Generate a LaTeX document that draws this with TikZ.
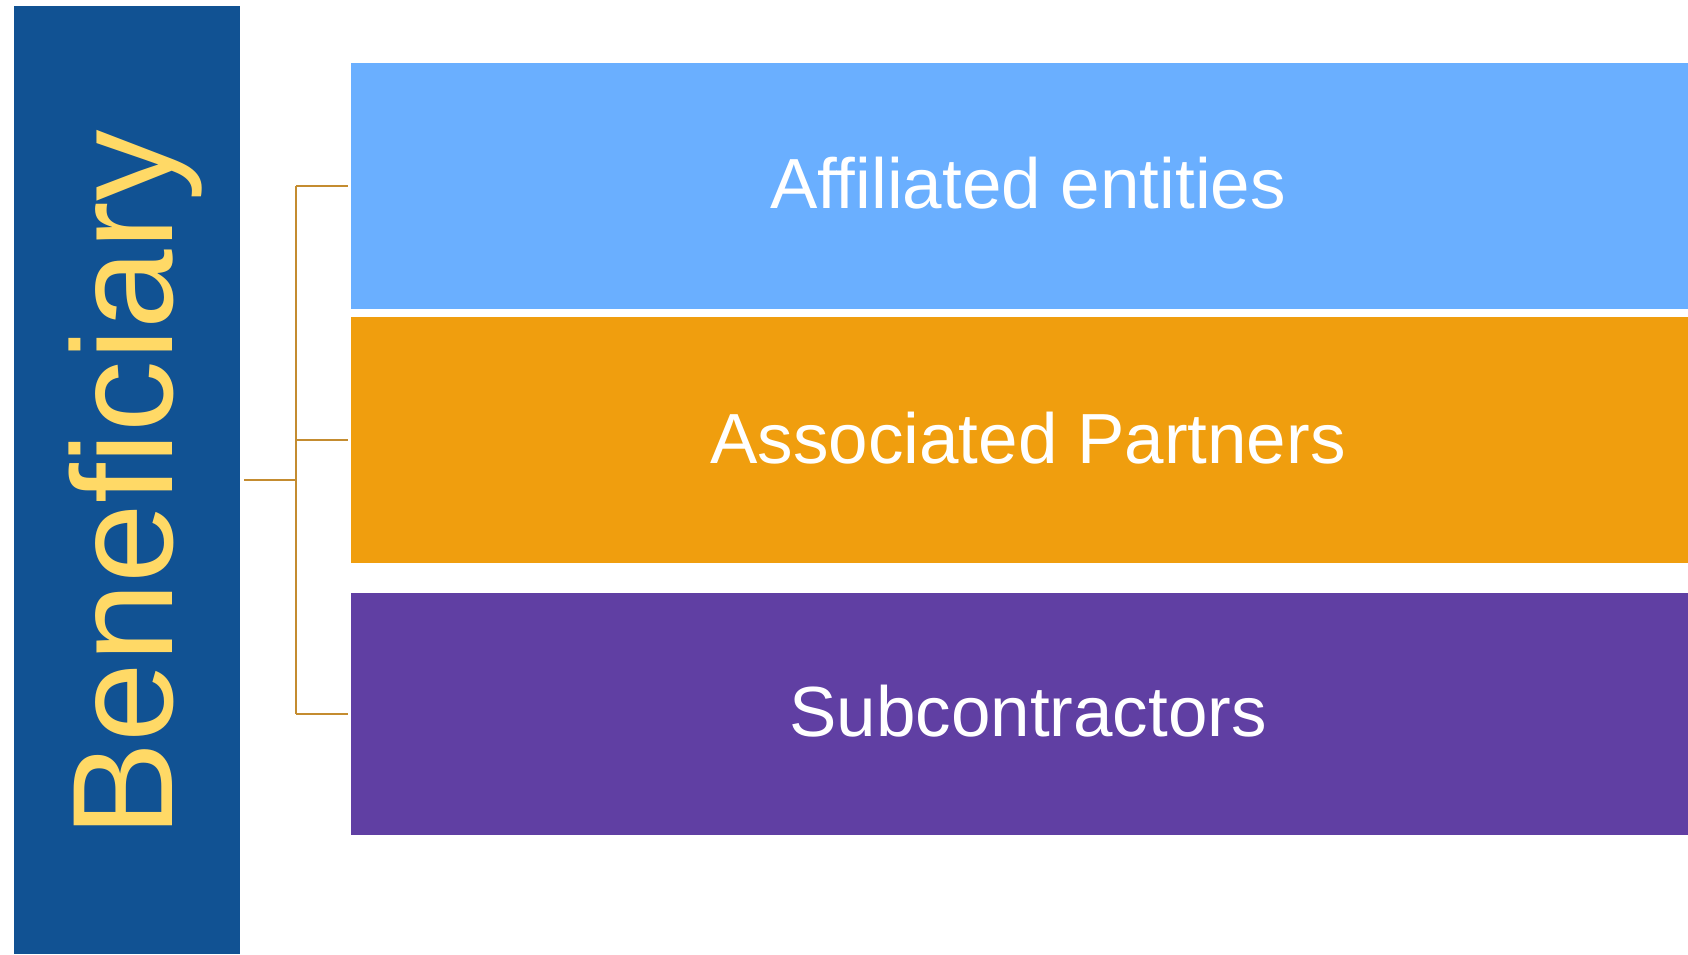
\documentclass[tikz,border=0pt]{standalone}
\usepackage{fontspec}
\setmainfont{Liberation Sans}
\definecolor{sidebar}{HTML}{115293}
\definecolor{benyellow}{HTML}{FFD966}
\definecolor{boxblue}{HTML}{6AAFFF}
\definecolor{boxorange}{HTML}{F09E0E}
\definecolor{boxpurple}{HTML}{603FA3}
\definecolor{bracket}{HTML}{C48C30}
\tikzset{
  band/.style={inner sep=0pt, minimum width=1339pt, draw=none},
  bandlabel/.style={anchor=base, text=white, inner sep=0pt, font=\fontsize{71}{80}\selectfont},
  brk/.style={draw=bracket, line width=2.5pt}
}
\begin{document}
\begin{tikzpicture}[x=1pt,y=-1pt]
\useasboundingbox[fill=white] (0,0) rectangle (1688,954);
\node[fill=sidebar, inner sep=0pt, minimum width=226pt, minimum height=948pt] (ben) at (127,480) {};
\node[rotate=90, anchor=base, text=benyellow, inner sep=0pt, font=\fontsize{143}{150}\selectfont] (benlabel) at (172,484) {Beneficiary};
\node[band, fill=boxblue, minimum height=246pt] (aff) at (1020.5,186) {};
\node[band, fill=boxorange, minimum height=246pt] (ass) at (1020.5,440) {};
\node[band, fill=boxpurple, minimum height=242pt] (sub) at (1020.5,714) {};
\node[bandlabel] (afflabel) at (1028,208) {Affiliated entities};
\node[bandlabel] (asslabel) at (1028,463) {Associated Partners};
\node[bandlabel] (sublabel) at (1028,736) {Subcontractors};
\coordinate (j) at (296,480);
\draw[brk, shorten <=4pt] (ben.east |- j) -- (j);
\draw[brk] (j |- aff.west) -- (j |- sub.west);
\draw[brk, shorten >=3pt] (j |- aff.west) -- (aff.west);
\draw[brk, shorten >=3pt] (j |- ass.west) -- (ass.west);
\draw[brk, shorten >=3pt] (j |- sub.west) -- (sub.west);
\end{tikzpicture}
\end{document}
